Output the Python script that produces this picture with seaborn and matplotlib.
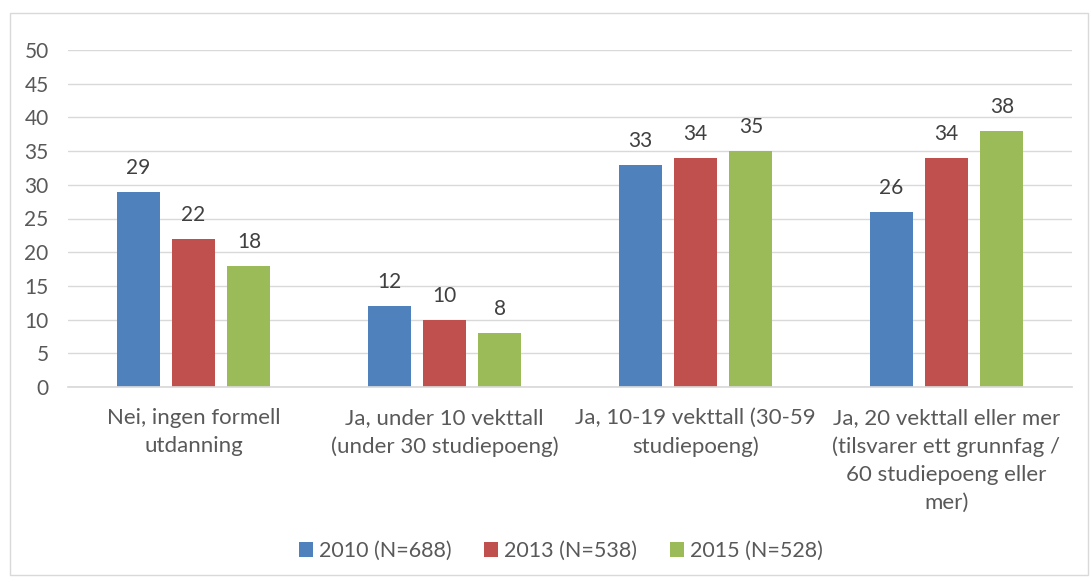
import matplotlib
matplotlib.use("Agg")
import matplotlib.pyplot as plt
from matplotlib.patches import Rectangle
import seaborn as sns
import pandas as pd

categories = [
    "Nei, ingen formell\nutdanning",
    "Ja, under 10 vekttall\n(under 30 studiepoeng)",
    "Ja, 10-19 vekttall (30-59\nstudiepoeng)",
    "Ja, 20 vekttall eller mer\n(tilsvarer ett grunnfag /\n60 studiepoeng eller\nmer)",
]
series = ["2010 (N=688)", "2013 (N=538)", "2015 (N=528)"]
values_2010 = [29, 12, 33, 26]
values_2013 = [22, 10, 34, 34]
values_2015 = [18, 8, 35, 38]
colors = ["#4F81BD", "#C0504D", "#9BBB59"]
y_ticks = [0, 5, 10, 15, 20, 25, 30, 35, 40, 45, 50]

rows = []
for s, vals in zip(series, [values_2010, values_2013, values_2015]):
    for c, v in zip(categories, vals):
        rows.append({"kategori": c, "serie": s, "prosent": v})
df = pd.DataFrame(rows)

sns.set_theme(style="white")
plt.rcParams["font.family"] = ["Lato", "DejaVu Sans"]
text_color = "#595959"

fig = plt.figure(figsize=(10.91, 5.82), dpi=100)
ax = fig.add_axes([68 / 1091, 1 - 387 / 582, (1072 - 68) / 1091, (387 - 50) / 582])

sns.barplot(data=df, x="kategori", y="prosent", hue="serie", palette=colors,
            order=categories, hue_order=series, width=0.663, gap=0.225,
            saturation=1, linewidth=0, ax=ax, legend=True)

for cont in ax.containers:
    ax.bar_label(cont, fmt="%d", padding=10, color="#404040", fontsize=15)

ax.set_ylim(0, 50)
ax.set_xlim(-0.5, 3.5)
ax.set_yticks(y_ticks)
ax.yaxis.grid(True, color="#d9d9d9", linewidth=1)
ax.set_axisbelow(True)
for side in ["top", "right", "left"]:
    ax.spines[side].set_visible(False)
ax.spines["bottom"].set_color("#d9d9d9")
ax.set_xlabel("")
ax.set_ylabel("")
ax.tick_params(axis="y", length=0, pad=14, labelsize=15, labelcolor=text_color)
ax.tick_params(axis="x", length=0, pad=15, labelsize=16, labelcolor=text_color)
for lab in ax.get_xticklabels():
    lab.set_linespacing(1.5)

handles, labels = ax.get_legend_handles_labels()
ax.legend(handles, labels, loc="center", bbox_to_anchor=(561 / 1091, 1 - 551 / 582),
          bbox_transform=fig.transFigure, ncol=3, frameon=False,
          fontsize=15.5, labelcolor=text_color, handlelength=0.65, handleheight=0.65,
          handletextpad=0.28, columnspacing=1.5)

fig.patches.append(Rectangle((10 / 1091, 7 / 582), 1078 / 1091, 562 / 582,
                             transform=fig.transFigure, fill=False,
                             edgecolor="#d9d9d9", linewidth=1))

fig.savefig("out.png", dpi=100)
